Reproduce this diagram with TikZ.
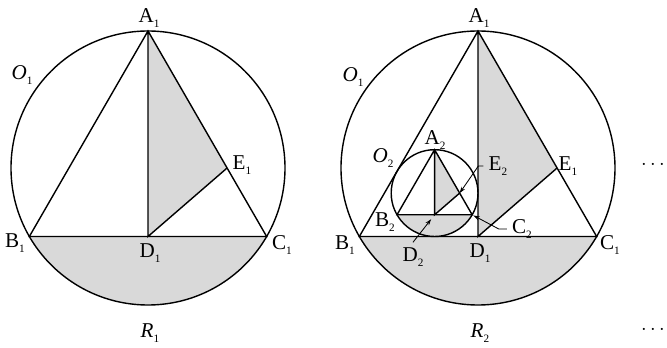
\documentclass[tikz,border=0pt]{standalone}
\usepackage{fontspec}
\setmainfont{Liberation Serif}
\usetikzlibrary{arrows.meta,calc}
\newcommand{\vx}[2]{#1\raisebox{-0.5ex}{\footnotesize #2}}
% circle, inscribed triangle, altitude AD, segment DE and the two grey parts
\newcommand{\trifig}[3]{\begin{scope}[shift={(#1)}]
  \coordinate (#2A) at (90:#3); \coordinate (#2B) at (210:#3); \coordinate (#2C) at (330:#3);
  \coordinate (#2D) at (0,{-0.5*#3}); \coordinate (#2E) at ({0.5774*#3},0);
  \fill[greyfill] (#2B) arc[start angle=210,end angle=330,radius=#3] -- cycle;
  \fill[greyfill] (#2A) -- (#2D) -- (#2E) -- cycle;
  \draw (0,0) circle[radius=#3];
  \draw (#2A) -- (#2B) -- (#2C) -- cycle (#2A) -- (#2D) -- (#2E);
\end{scope}}
\tikzset{greyfill/.style={fill=gray!30},
  leader/.style={line width=0.6pt,-{Stealth[length=4.5pt,width=3pt]}}}

\begin{document}
\begin{tikzpicture}[x=0.025cm,y=0.025cm,line width=1pt,font=\fontsize{15}{17}\selectfont]
\useasboundingbox (0,0) rectangle (667,348);
% R1
\trifig{148,180}{p}{137}
\node (pa) at (149,330) {\vx{A}{1}};
\node (pb) at (15,105) {\vx{B}{1}};
\node (pc) at (282,103) {\vx{C}{1}};
\node (pd) at (150,95) {\vx{D}{1}};
\node (pe) at (242,183) {\vx{E}{1}};
\node (po) at (22,273) {\vx{\textit{O}}{1}};
\node (pr) at (150,15) {\vx{\textit{R}}{1}};
% R2
\trifig{478,180}{q}{137}
\coordinate (O2) at ($(qD)+(-43.4,43.4)$);
\trifig{O2}{s}{43.4}
\node (qa) at (479,330) {\vx{A}{1}};
\node (qb) at (345,103) {\vx{B}{1}};
\node (qc) at (610,103) {\vx{C}{1}};
\node (qd) at (480,95) {\vx{D}{1}};
\node (qe) at (568,182) {\vx{E}{1}};
\node (qo) at (353,271) {\vx{\textit{O}}{1}};
\node (so) at (383,190) {\vx{\textit{O}}{2}};
\node (sa) at (435,208) {\vx{A}{2}};
\node (sb) at (385,126) {\vx{B}{2}};
\node (sc) at (522,119) {\vx{C}{2}};
\node (sd) at (413,91) {\vx{D}{2}};
\node (se) at (498,182) {\vx{E}{2}};
\node (qr) at (480,15) {\vx{\textit{R}}{2}};
\draw[leader] (se.west) -- ++(-5,0) -- (sE);
\draw[leader,shorten >=1pt] (sc.west) -- ++(-8,0) -- (sC);
\draw[leader,shorten >=4pt] (sd.north) -- (sD);
\node (dots1) at (653,183) {$\cdots$};
\node (dots2) at (653,18) {$\cdots$};
\end{tikzpicture}
\end{document}
